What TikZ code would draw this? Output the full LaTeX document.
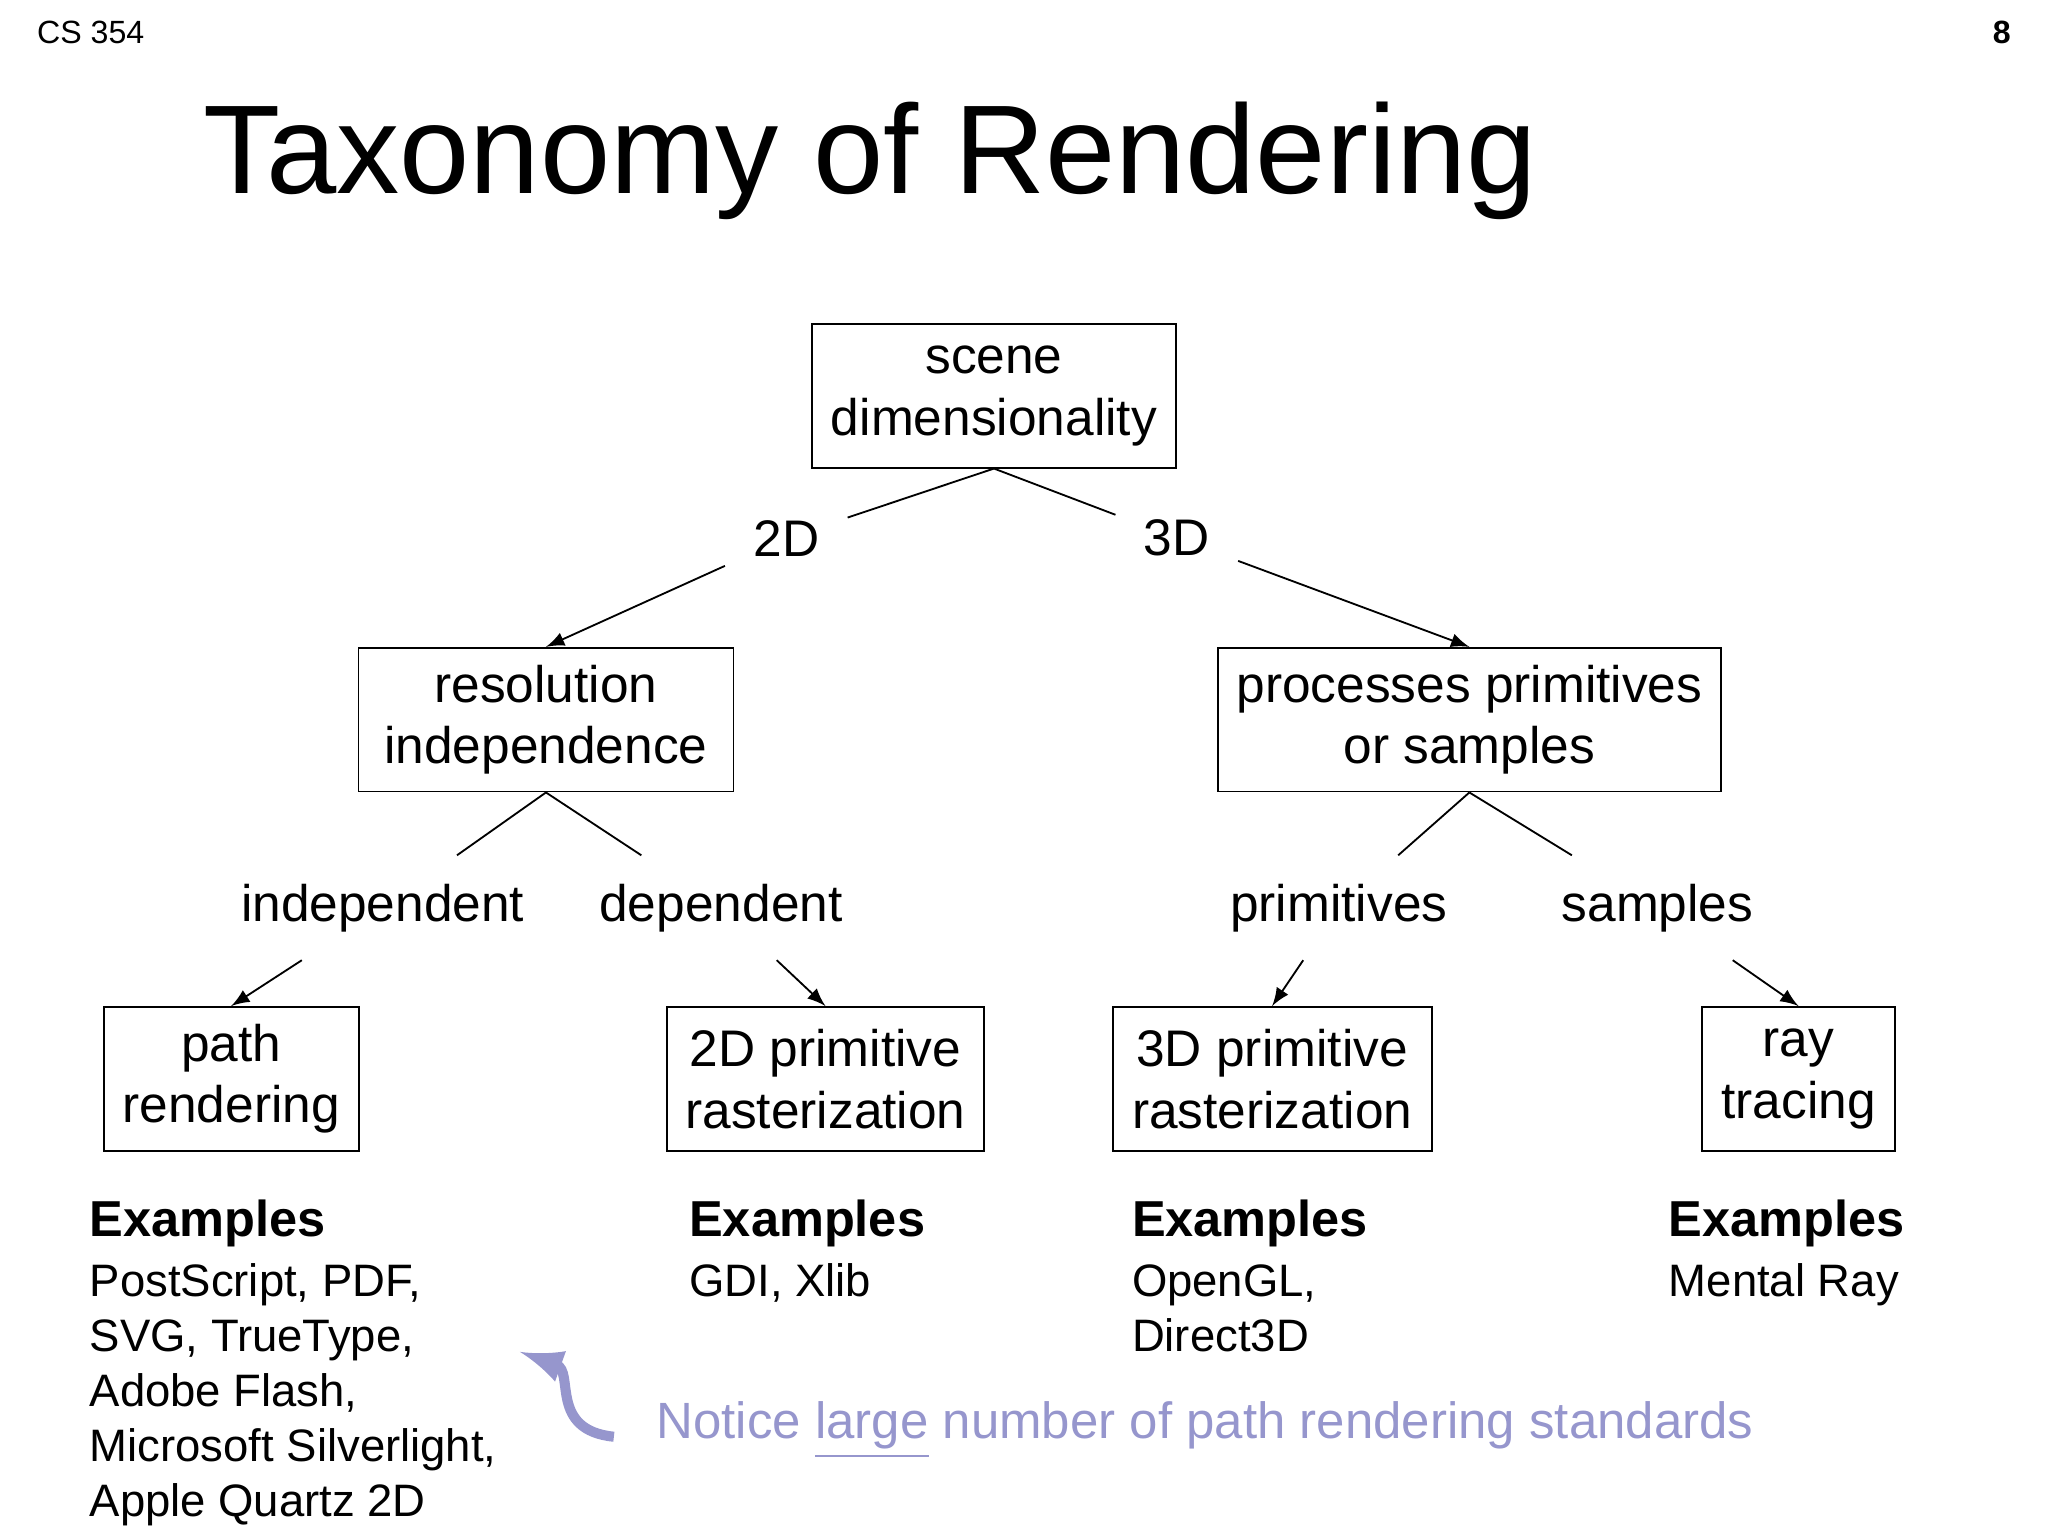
\documentclass[tikz,border=0pt]{standalone}
\usepackage{fontspec}
\setmainfont{Liberation Sans}
\usetikzlibrary{positioning}
\definecolor{notecol}{RGB}{150,150,205}
\begin{document}
\begin{tikzpicture}
  [ x=0.01cm, y=-0.01cm,
    box/.style={rectangle, draw=black, align=center, inner sep=0pt,
                minimum height=1.10cm, font=\fontsize{11.2}{13.4}\selectfont},
    lbl/.style={inner sep=6pt, font=\fontsize{11.2}{13.4}\selectfont},
    ex/.style={anchor=north west, align=left, inner sep=0pt,
               font=\fontsize{9.9}{12}\selectfont},
    line1/.style={-, thin, black},
    arr1/.style={-latex, thin, black}
  ]
  \useasboundingbox (0,0) rectangle (1568,1176);

  \node[anchor=west, font=\fontsize{7}{8}\selectfont] (course) at (16,25) {CS 354};
  \node[anchor=east, font=\fontsize{7}{8}\selectfont\bfseries] (page) at (1552,25) {8};
  \node[anchor=west, font=\fontsize{27.5}{32}\selectfont] (title) at (143,123) {Taxonomy of Rendering};

  \node[box, minimum width=2.78cm] (scene) at (761,303) {scene\\dimensionality};
  \node[lbl] (twod) at (602,412) {2D};
  \node[lbl] (threed) at (901,412) {3D};
  \node[box, minimum width=2.87cm] (res) at (418,551) {resolution\\independence};
  \node[box, minimum width=3.85cm] (proc) at (1125,551) {processes primitives\\or samples};
  \node[lbl] (indep) at (293,695) {independent};
  \node[lbl] (dep) at (552,695) {dependent};
  \node[lbl] (prims) at (1025,695) {primitives};
  \node[lbl] (samps) at (1269,695) {samples};
  \node[box, minimum width=1.95cm] (path) at (177,826) {path\\rendering};
  \node[box, minimum width=2.43cm] (prim2d) at (632,826) {2D primitive\\rasterization};
  \node[box, minimum width=2.44cm] (prim3d) at (974,826) {3D primitive\\rasterization};
  \node[box, minimum width=1.48cm] (ray) at (1377,826) {ray\\tracing};

  \draw[line1] (scene.south) -- (twod);
  \draw[line1] (scene.south) -- (threed);
  \draw[arr1] (twod) -- (res.north);
  \draw[arr1] (threed) -- (proc.north);
  \draw[line1] (res.south) -- (indep);
  \draw[line1] (res.south) -- (dep);
  \draw[line1] (proc.south) -- (prims);
  \draw[line1] (proc.south) -- (samps);
  \draw[arr1] (indep) -- (path.north);
  \draw[arr1] (dep) -- (prim2d.north);
  \draw[arr1] (prims) -- (prim3d.north);
  \draw[arr1] (samps) -- (ray.north);

  \node[ex] (expath) at (68,918) {{\fontsize{11}{13}\selectfont\bfseries Examples}\\[1pt]PostScript, PDF,\\SVG, TrueType,\\Adobe Flash,\\Microsoft Silverlight,\\Apple Quartz 2D};
  \node[ex] (ex2d) at (527,918) {{\fontsize{11}{13}\selectfont\bfseries Examples}\\[1pt]GDI, Xlib};
  \node[ex] (ex3d) at (866,918) {{\fontsize{11}{13}\selectfont\bfseries Examples}\\[1pt]OpenGL,\\Direct3D};
  \node[ex] (exray) at (1277,918) {{\fontsize{11}{13}\selectfont\bfseries Examples}\\[1pt]Mental Ray};

  \node[anchor=west, inner sep=0pt, text=notecol, font=\fontsize{11.1}{13}\selectfont] (note) at (502,1095)
    {Notice \underline{large} number of path rendering standards};
  \coordinate (tail) at (470,1100);
  \draw[notecol, line width=2.2pt, -latex] (tail) .. controls (420,1095) and (440,1050) .. (398,1035);
\end{tikzpicture}
\end{document}
